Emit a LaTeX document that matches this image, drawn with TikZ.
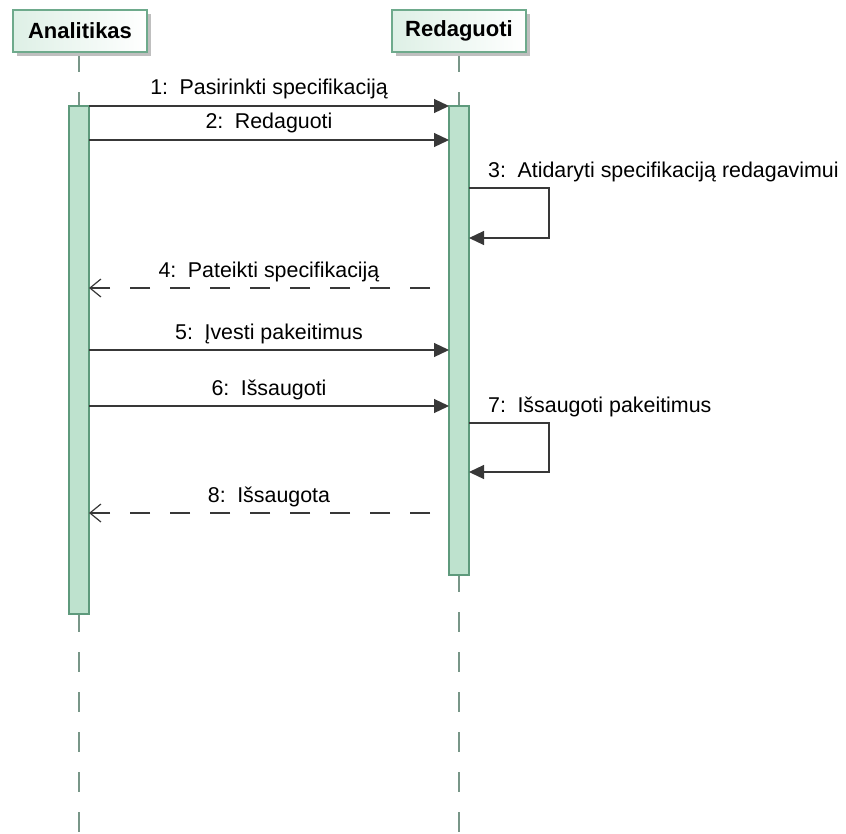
\documentclass[tikz,border=0pt]{standalone}
\usepackage{fontspec}
\setmainfont{Liberation Sans}
\usetikzlibrary{arrows.meta,shadings}
\definecolor{barfill}{RGB}{190,226,206}
\definecolor{barline}{RGB}{94,154,124}
\definecolor{lifeline}{RGB}{120,150,136}
\definecolor{msgline}{RGB}{56,56,56}
\definecolor{headfill}{RGB}{222,240,230}
\definecolor{headline}{RGB}{110,170,140}
\tikzset{
  x=1pt, y=-1pt,
  lbl/.style={font=\fontsize{21.4}{25}\selectfont, text=black, inner sep=0pt, anchor=base},
  headbox/.style={draw=headline, line width=1.4pt, left color=headfill, right color=white, minimum width=134pt, minimum height=42pt, inner sep=0pt, font=\bfseries\fontsize{22}{26}\selectfont},
  shadowbox/.style={fill=black!25, draw=none, minimum width=134pt, minimum height=42pt},
  life/.style={draw=lifeline, line width=1.3pt, dash pattern=on 20pt off 20pt},
  bar/.style={draw=barline, fill=barfill, line width=1.3pt},
  msg/.style={draw=msgline, line width=1.2pt, -{Triangle[length=15pt,width=14pt]}},
  ret/.style={draw=msgline, line width=1.2pt, dash pattern=on 20pt off 20pt, dash phase=21pt, -{Straight Barb[length=11pt,width=18pt,line width=1.2pt]}},
}
\begin{document}
\begin{tikzpicture}
\useasboundingbox (0,0) rectangle (846,833);
% lifelines
\coordinate (la) at (79,52);
\coordinate (lb) at (459,52);
\coordinate (laend) at (79,833);
\coordinate (lbend) at (459,833);
\draw[life] (la) -- (laend);
\draw[life] (lb) -- (lbend);
% heads
\node[shadowbox] at (84,35) {};
\node[shadowbox] at (463,35) {};
\node[headbox] (ha) at (80,31) {Analitikas};
\node[headbox] (hb) at (459,31) {Redaguoti};
% activation bars
\draw[bar] (69,106) rectangle (89,614);
\draw[bar] (449,106) rectangle (469,575);
% message anchors
\foreach \n/\y in {1/106,2/140,4/288,5/350,6/406,8/513} {
  \coordinate (a\n) at (89,\y);
  \coordinate (b\n) at (449,\y);
}
\coordinate (s3a) at (469,188);
\coordinate (s3b) at (549,188);
\coordinate (s3c) at (549,238);
\coordinate (s3d) at (469,238);
\coordinate (s7a) at (469,423);
\coordinate (s7b) at (549,423);
\coordinate (s7c) at (549,472);
\coordinate (s7d) at (469,472);
% messages
\draw[msg] (a1) -- node[lbl, pos=0.5, yshift=12pt] {1:\, Pasirinkti specifikaciją} (b1);
\draw[msg] (a2) -- node[lbl, pos=0.5, yshift=12pt] {2:\, Redaguoti} (b2);
\draw[msg] (s3a) -- (s3b) -- (s3c) -- (s3d);
\node[lbl, anchor=base west] at (488,177) {3:\, Atidaryti specifikaciją redagavimui};
\draw[ret] (b4) -- node[lbl, pos=0.5, yshift=11pt] {4:\, Pateikti specifikaciją} (a4);
\draw[msg] (a5) -- node[lbl, pos=0.5, yshift=11pt] {5:\, Įvesti pakeitimus} (b5);
\draw[msg] (a6) -- node[lbl, pos=0.5, yshift=11pt] {6:\, Išsaugoti} (b6);
\draw[msg] (s7a) -- (s7b) -- (s7c) -- (s7d);
\node[lbl, anchor=base west] at (488,412) {7:\, Išsaugoti pakeitimus};
\draw[ret] (b8) -- node[lbl, pos=0.5, yshift=11pt] {8:\, Išsaugota} (a8);
\end{tikzpicture}
\end{document}
